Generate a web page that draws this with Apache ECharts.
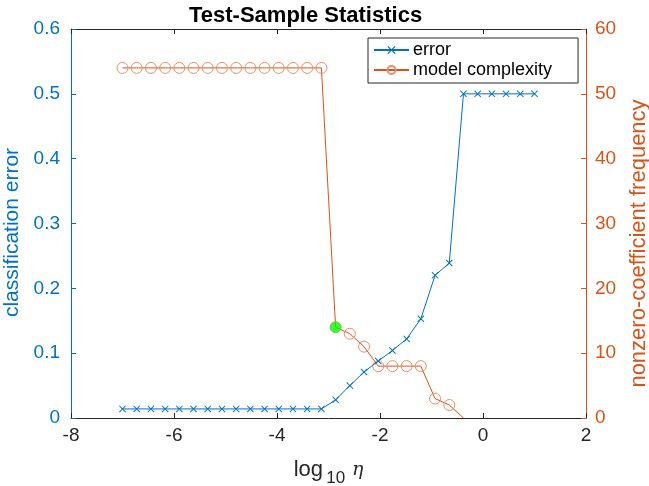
<!DOCTYPE html>
<html><head><meta charset="utf-8">
<script src="https://cdn.jsdelivr.net/npm/echarts@6/dist/echarts.min.js"></script>
<style>html,body{margin:0;padding:0;background:#fff}#c{width:649px;height:486px}</style>
</head><body><div id="c"></div>
<script>
const log10Eta = [-7, -6.724, -6.448, -6.172, -5.897, -5.621, -5.345, -5.069, -4.793, -4.517,
  -4.241, -3.966, -3.690, -3.414, -3.138, -2.862, -2.586, -2.310, -2.034, -1.759,
  -1.483, -1.207, -0.931, -0.655, -0.379, -0.103, 0.172, 0.448, 0.724, 1];
const errorValues = [0.014, 0.014, 0.014, 0.014, 0.014, 0.014, 0.014, 0.014, 0.014, 0.014,
  0.014, 0.014, 0.014, 0.014, 0.014, 0.028, 0.050, 0.071, 0.088, 0.104,
  0.122, 0.153, 0.220, 0.239, 0.5, 0.5, 0.5, 0.5, 0.5, 0.5];
const complexityValues = [54, 54, 54, 54, 54, 54, 54, 54, 54, 54,
  54, 54, 54, 54, 54, 14, 13, 11, 8, 8,
  8, 8, 3, 2, 0, null, null, null, null, null];
const bestPoint = [-2.862, 0.14];
const xTicks = [-8, 2, 2];      // min, max, interval
const leftTicks = [0, 0.6, 0.1];
const rightTicks = [0, 60, 10];

const blue = '#0072BD', orange = '#D95319', dark = '#262626';
const font = 'Liberation Sans, Arial, Helvetica, sans-serif';
const xSym = 'path://M0,1 L1,0 L5,4 L9,0 L10,1 L6,5 L10,9 L9,10 L5,6 L1,10 L0,9 L4,5 Z';

const errData = log10Eta.map((x, i) => [x, errorValues[i]]);
const cxData = [];
log10Eta.forEach((x, i) => {
  const v = complexityValues[i];
  if (v === null) return;
  if (v === 0) cxData.push({value: [x, v], symbol: 'none'});
  else cxData.push([x, v]);
});

const chart = echarts.init(document.getElementById('c'), null, {renderer: 'canvas'});
chart.setOption({
  animation: false,
  backgroundColor: '#fff',
  title: {
    text: 'Test-Sample Statistics', left: 184, top: 0,
    textStyle: {fontFamily: font, fontSize: 22, fontWeight: 'bold', color: '#000'}
  },
  legend: {
    orient: 'vertical', left: 368, top: 38,
    padding: [3, 26, 4, 5], itemGap: 2, itemWidth: 35, itemHeight: 10,
    borderColor: dark, borderWidth: 1, backgroundColor: '#fff', borderRadius: 0,
    textStyle: {fontFamily: font, fontSize: 18, color: '#000', padding: [0, 0, 0, -1]},
    data: [{name: 'error'}, {name: 'model complexity'}]
  },
  grid: {left: 71, right: 63, top: 29, bottom: 68, containLabel: false, outerBoundsMode: 'none'},
  xAxis: [{
    type: 'value', min: xTicks[0], max: xTicks[1], interval: xTicks[2],
    position: 'bottom',
    name: '{n|log} {s|10}  {i|η}', nameLocation: 'middle', nameGap: 35,
    nameTextStyle: {rich: {
      n: {fontFamily: font, fontSize: 22, color: dark},
      s: {fontFamily: font, fontSize: 17, color: dark, padding: [17, 0, 0, 0]},
      i: {fontFamily: 'DejaVu Serif, serif', fontStyle: 'italic', fontSize: 19, color: dark}
    }},
    axisLine: {onZero: false, lineStyle: {color: dark, width: 1}},
    axisTick: {inside: true, length: 5, lineStyle: {color: dark}},
    axisLabel: {fontFamily: font, fontSize: 19, color: dark, margin: 8},
    splitLine: {show: false}
  }, {
    type: 'value', min: xTicks[0], max: xTicks[1], interval: xTicks[2],
    position: 'top',
    axisLine: {onZero: false, lineStyle: {color: dark, width: 1}},
    axisTick: {inside: true, length: 5, lineStyle: {color: dark}},
    axisLabel: {show: false}, splitLine: {show: false}
  }],
  yAxis: [{
    type: 'value', min: leftTicks[0], max: leftTicks[1], interval: leftTicks[2],
    position: 'left',
    name: 'classification error', nameLocation: 'middle', nameGap: 43,
    nameTextStyle: {fontFamily: font, fontSize: 21, color: blue, padding: [0, 18, 0, 0]},
    axisLine: {show: true, onZero: false, lineStyle: {color: blue, width: 1}},
    axisTick: {show: true, inside: true, length: 5, lineStyle: {color: blue}},
    axisLabel: {fontFamily: font, fontSize: 19, color: blue, margin: 11},
    splitLine: {show: false}
  }, {
    type: 'value', min: rightTicks[0], max: rightTicks[1], interval: rightTicks[2],
    position: 'right',
    name: 'nonzero-coefficient frequency', nameLocation: 'middle', nameGap: 42, nameRotate: 90,
    nameTextStyle: {fontFamily: font, fontSize: 22, color: orange, padding: [0, 40, 0, 0]},
    axisLine: {show: true, onZero: false, lineStyle: {color: orange, width: 1}},
    axisTick: {show: true, inside: true, length: 5, lineStyle: {color: orange}},
    axisLabel: {fontFamily: font, fontSize: 19, color: orange, margin: 9},
    splitLine: {show: false}
  }],
  series: [{
    name: 'error', type: 'line', xAxisIndex: 0, yAxisIndex: 0,
    data: errData, symbol: xSym, symbolSize: 7, showAllSymbol: true,
    lineStyle: {color: blue, width: 1},
    itemStyle: {color: blue},
    z: 3
  }, {
    name: 'model complexity', type: 'line', xAxisIndex: 0, yAxisIndex: 1,
    data: cxData, symbol: 'circle', symbolSize: 11, showAllSymbol: true,
    lineStyle: {color: orange, width: 1},
    itemStyle: {color: 'rgba(255,255,255,0)', borderColor: '#E8906A', borderWidth: 1},
    z: 2
  }, {
    name: 'best', type: 'scatter', xAxisIndex: 0, yAxisIndex: 0,
    data: [bestPoint], symbol: 'circle', symbolSize: 11,
    itemStyle: {color: '#00FF00'}, z: 5
  }]
});
</script>
</body></html>
